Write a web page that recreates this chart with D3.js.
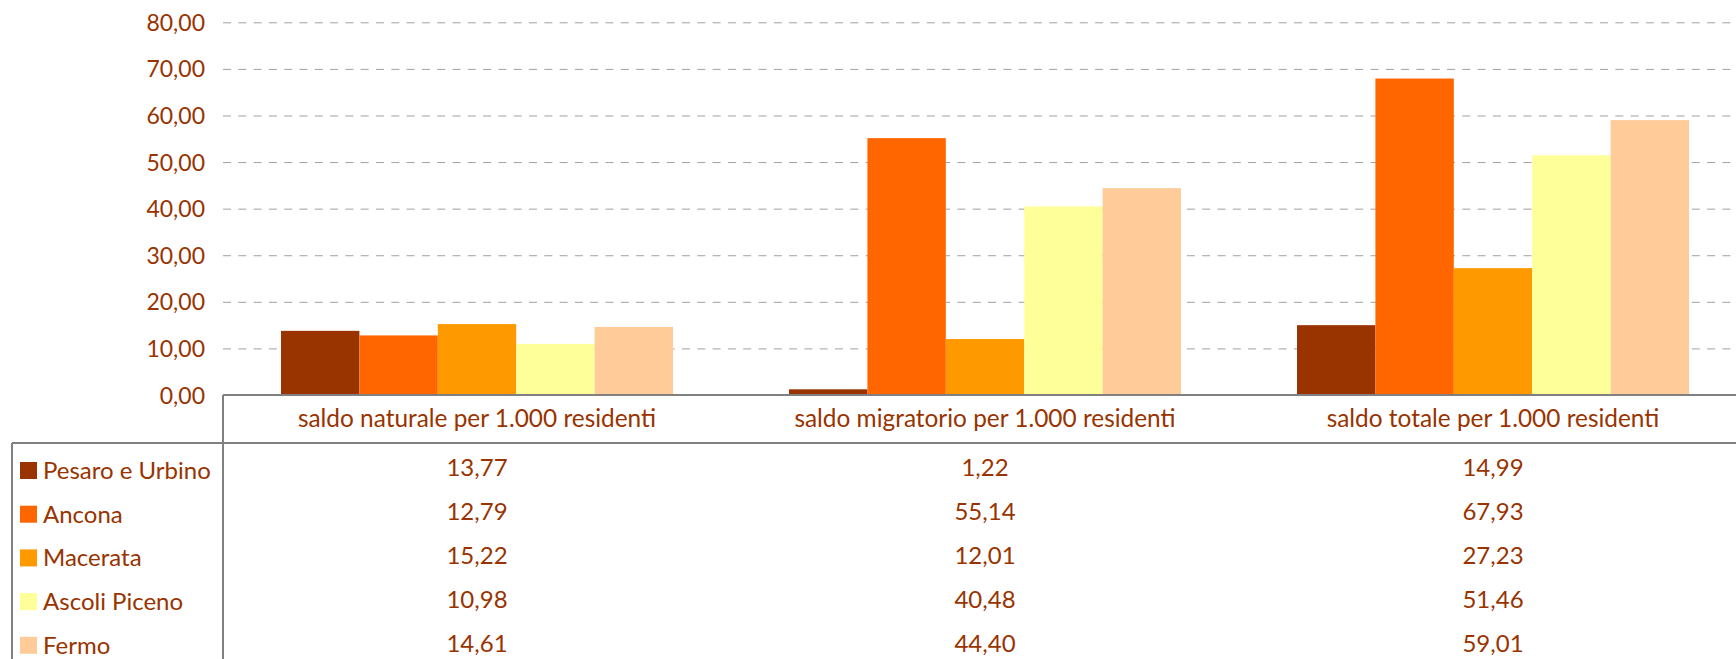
<!DOCTYPE html>
<html>
<head>
<meta charset="utf-8">
<script src="https://cdn.jsdelivr.net/npm/d3@7"></script>
<style>
  html, body { margin: 0; padding: 0; background: #ffffff; }
  svg { display: block; }
  text { font-family: Lato, "Open Sans", sans-serif; fill: #993300; }
</style>
</head>
<body>
<svg id="chart" width="1736" height="659"></svg>
<script>
// ---- data ----
const categories = [
  "saldo naturale per 1.000 residenti",
  "saldo migratorio per 1.000 residenti",
  "saldo totale per 1.000 residenti"
];
const seriesNames = ["Pesaro e Urbino", "Ancona", "Macerata", "Ascoli Piceno", "Fermo"];
const pesaroUrbino = [13.77, 1.22, 14.99];
const ancona = [12.79, 55.14, 67.93];
const macerata = [15.22, 12.01, 27.23];
const ascoliPiceno = [10.98, 40.48, 51.46];
const fermo = [14.61, 44.40, 59.01];
const seriesColors = ["#993300", "#FF6600", "#FF9900", "#FFFF99", "#FFCC99"];
const yTicks = [0, 10, 20, 30, 40, 50, 60, 70, 80];

const seriesValues = [pesaroUrbino, ancona, macerata, ascoliPiceno, fermo];
const series = seriesNames.map((name, i) => ({ name, values: seriesValues[i], color: seriesColors[i] }));

// ---- layout ----
const plotLeft = 223, plotRight = 1747, plotTop = 22.3, plotBottom = 395;
const headerBottom = 443;

const it = d3.formatLocale({ decimal: ",", thousands: ".", grouping: [3], currency: ["€", ""] });
const fmt = it.format(".2f");

const svg = d3.select("#chart");

const x0 = d3.scaleBand().domain(categories).range([plotLeft, plotRight]).padding(0);
const x1 = d3.scaleBand().domain(seriesNames).range([0, x0.bandwidth()]).paddingInner(0).paddingOuter(0.74);
const y = d3.scaleLinear().domain([0, 80]).range([plotBottom, plotTop]);

// gridlines + y labels
const yAxis = d3.axisLeft(y).tickValues(yTicks).tickFormat(fmt)
  .tickSize(-(plotRight - plotLeft)).tickPadding(18);
const gy = svg.append("g").attr("transform", `translate(${plotLeft},0)`).call(yAxis);
gy.select(".domain").remove();
gy.selectAll(".tick line")
  .attr("stroke", "#a0a0a0").attr("stroke-width", 1).attr("stroke-dasharray", "8,7.3");
gy.selectAll(".tick text")
  .attr("font-size", 23).attr("fill", "#993300").attr("dy", "0.35em")
  .style("font-family", "Lato, 'Open Sans', sans-serif");

// bars
const groups = svg.append("g").selectAll("g")
  .data(categories).join("g")
  .attr("transform", d => `translate(${x0(d)},0)`);
groups.selectAll("rect")
  .data((c, ci) => series.map(s => ({ name: s.name, value: s.values[ci], color: s.color })))
  .join("rect")
  .attr("x", d => x1(d.name))
  .attr("width", x1.bandwidth())
  .attr("y", d => y(d.value))
  .attr("height", d => y(0) - y(d.value))
  .attr("fill", d => d.color);

// data table lines
const lineColor = "#808080";
const tbl = svg.append("g").attr("stroke", lineColor).attr("stroke-width", 2).attr("fill", "none");
tbl.append("line").attr("x1", plotLeft).attr("x2", plotRight).attr("y1", plotBottom).attr("y2", plotBottom);
tbl.append("line").attr("x1", plotLeft).attr("x2", plotLeft).attr("y1", plotBottom).attr("y2", 700);
tbl.append("line").attr("x1", 12).attr("x2", plotRight).attr("y1", headerBottom).attr("y2", headerBottom);
tbl.append("line").attr("x1", 12).attr("x2", 12).attr("y1", headerBottom).attr("y2", 700);

// category headers
svg.append("g").selectAll("text")
  .data(categories).join("text")
  .attr("x", d => x0(d) + x0.bandwidth() / 2)
  .attr("y", 427)
  .attr("text-anchor", "middle")
  .attr("font-size", 24.4)
  .text(d => d);

// legend rows
const leg = svg.append("g").selectAll("g")
  .data(series).join("g")
  .attr("transform", (d, i) => `translate(0,${479 + i * 43.7})`);
leg.append("rect").attr("x", 20).attr("y", -17).attr("width", 17).attr("height", 17)
  .attr("fill", d => d.color);
leg.append("text").attr("x", 43).attr("y", 0).attr("font-size", 24).text(d => d.name);

// values
series.forEach((s, i) => {
  svg.append("g").selectAll("text")
    .data(categories).join("text")
    .attr("x", d => x0(d) + x0.bandwidth() / 2)
    .attr("y", 476 + i * 44.1)
    .attr("text-anchor", "middle")
    .attr("font-size", 24)
    .text((d, ci) => fmt(s.values[ci]));
});
</script>
</body>
</html>
